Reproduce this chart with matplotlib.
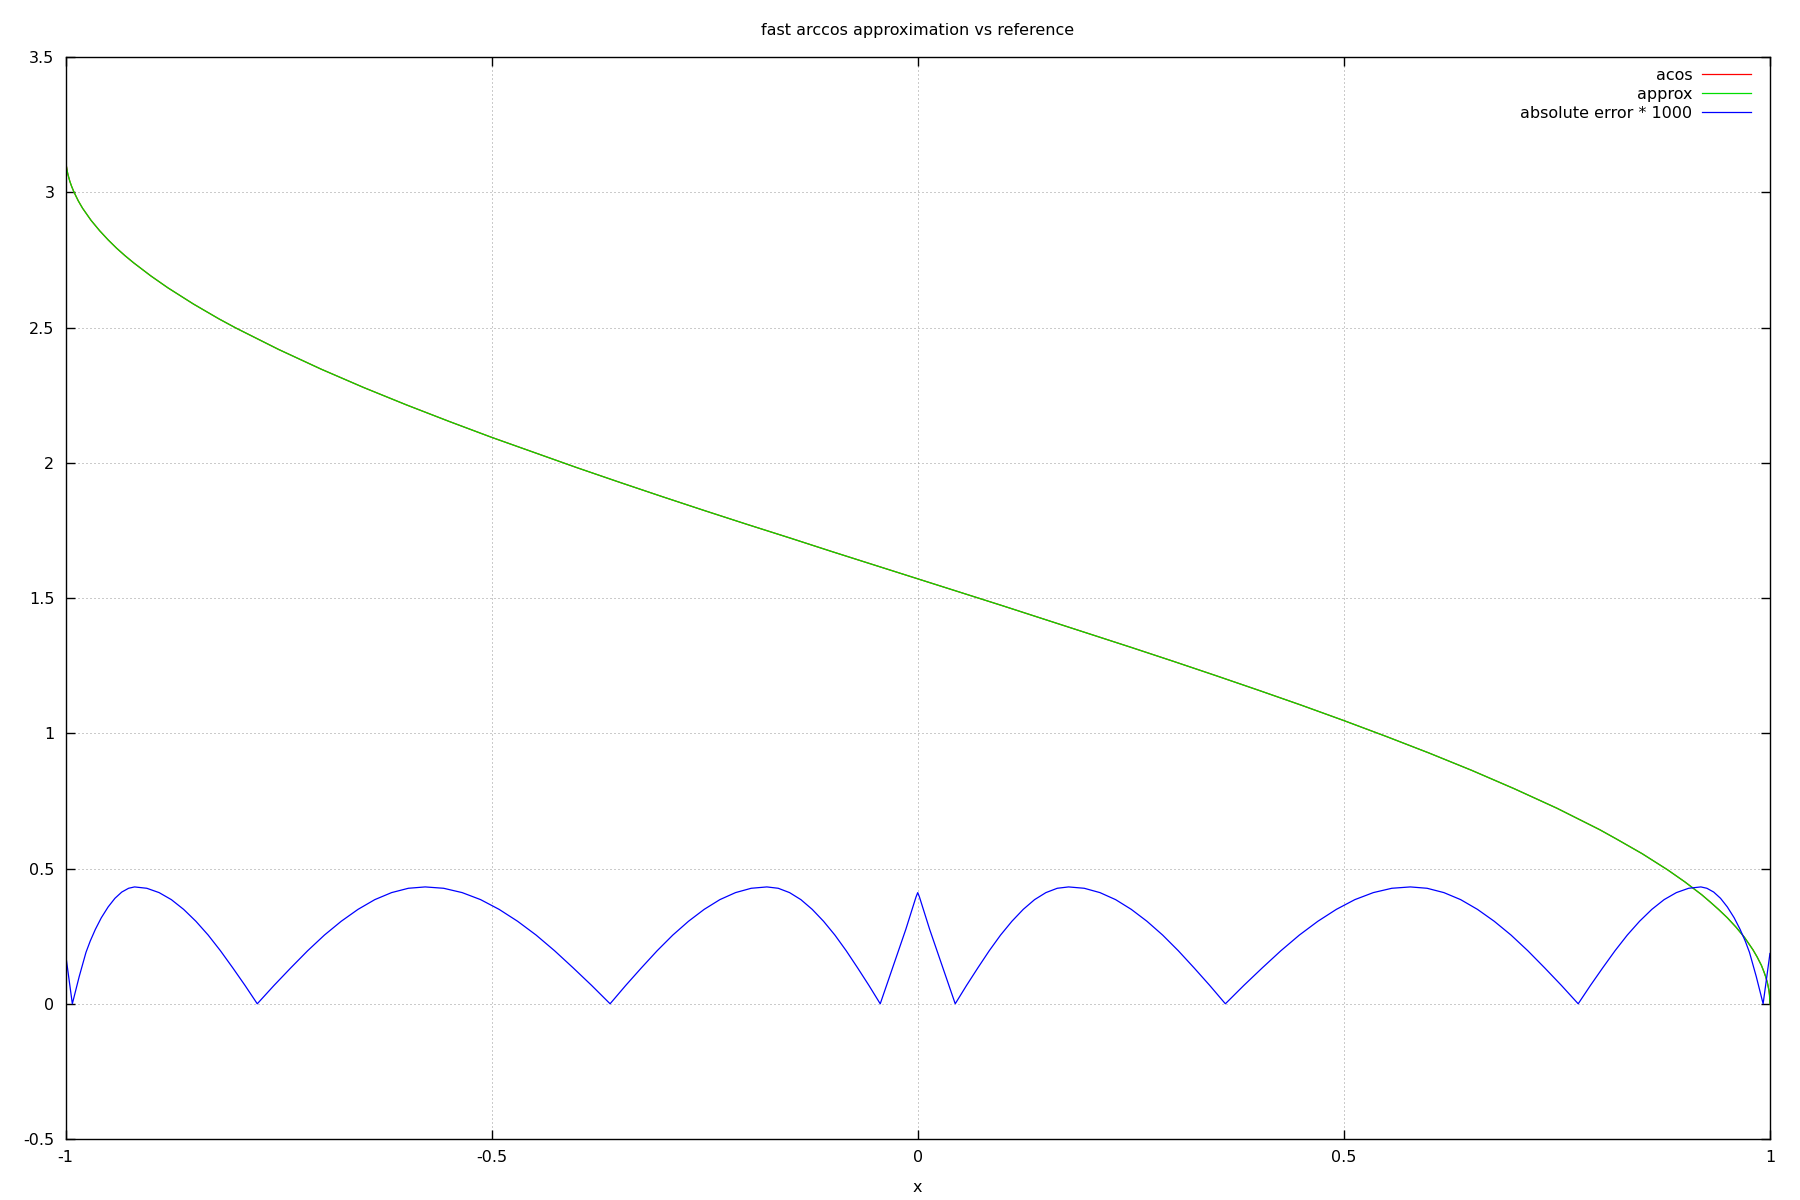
import matplotlib
matplotlib.use("Agg")
import matplotlib.pyplot as plt

# values
curve_x = [-1.0, -0.9995, -0.999, -0.998, -0.997, -0.995, -0.993, -0.99, -0.985, -0.98,
           -0.97, -0.96, -0.95, -0.94, -0.93, -0.92, -0.9, -0.88, -0.85, -0.82,
           -0.8, -0.75, -0.7, -0.65, -0.6, -0.55, -0.5, -0.45, -0.4, -0.35,
           -0.3, -0.25, -0.2, -0.15, -0.1, -0.05, 0.0,
           0.05, 0.1, 0.15, 0.2, 0.25, 0.3, 0.35, 0.4, 0.45, 0.5,
           0.55, 0.6, 0.65, 0.7, 0.75, 0.8, 0.82, 0.85, 0.88, 0.9,
           0.92, 0.93, 0.94, 0.95, 0.96, 0.97, 0.98, 0.985, 0.99, 0.993,
           0.995, 0.997, 0.998, 0.999, 0.9995, 1.0]
acos_y = [3.141, 3.110, 3.097, 3.078, 3.064, 3.041, 3.023, 3.000, 2.968, 2.941,
          2.896, 2.858, 2.824, 2.793, 2.765, 2.739, 2.691, 2.647, 2.587, 2.532,
          2.498, 2.419, 2.346, 2.278, 2.214, 2.153, 2.094, 2.038, 1.982, 1.928,
          1.875, 1.823, 1.772, 1.722, 1.671, 1.621, 1.571,
          1.521, 1.471, 1.420, 1.369, 1.318, 1.266, 1.213, 1.159, 1.104, 1.047,
          0.988, 0.927, 0.863, 0.795, 0.723, 0.644, 0.609, 0.555, 0.495, 0.451,
          0.403, 0.376, 0.348, 0.318, 0.284, 0.246, 0.200, 0.173, 0.142, 0.118,
          0.100, 0.078, 0.063, 0.045, 0.032, 0.0]
# approx sits on top of acos at this scale
approx_y = [3.141, 3.110, 3.097, 3.078, 3.064, 3.041, 3.023, 3.000, 2.968, 2.941,
            2.896, 2.858, 2.824, 2.793, 2.765, 2.739, 2.691, 2.647, 2.587, 2.532,
            2.498, 2.419, 2.346, 2.278, 2.214, 2.153, 2.094, 2.038, 1.982, 1.928,
            1.875, 1.823, 1.772, 1.722, 1.671, 1.621, 1.571,
            1.521, 1.471, 1.420, 1.369, 1.318, 1.266, 1.213, 1.159, 1.104, 1.047,
            0.988, 0.927, 0.863, 0.795, 0.723, 0.644, 0.609, 0.555, 0.495, 0.451,
            0.403, 0.376, 0.348, 0.318, 0.284, 0.246, 0.200, 0.173, 0.142, 0.118,
            0.100, 0.078, 0.063, 0.045, 0.032, 0.0]

# left half of the error curve (x <= 0)
err_x_neg = [-1.0,
             -0.992, -0.988, -0.984, -0.98, -0.976, -0.971, -0.965, -0.958, -0.95, -0.942, -0.934, -0.926,
             -0.919, -0.9046, -0.8902, -0.8758, -0.8614, -0.847, -0.8326, -0.8182, -0.8038, -0.7894,
             -0.775, -0.7553, -0.7356, -0.7159, -0.6962, -0.6765, -0.6568, -0.6371, -0.6174, -0.5977,
             -0.578, -0.5563, -0.5346, -0.5129, -0.4912, -0.4695, -0.4478, -0.4261, -0.4044, -0.3827,
             -0.361, -0.3426, -0.3242, -0.3058, -0.2874, -0.269, -0.2506, -0.2322, -0.2138, -0.1954,
             -0.177, -0.1637, -0.1504, -0.1371, -0.1238, -0.1105, -0.0972, -0.0839, -0.0706, -0.0573,
             -0.044, -0.038, -0.032, -0.026, -0.02, -0.014, -0.009, -0.005, -0.002, 0.0]
err_y_neg = [0.186,
             0.0, 0.05, 0.10, 0.145, 0.19, 0.232, 0.275, 0.318, 0.358, 0.39, 0.413, 0.427,
             0.432, 0.427, 0.411, 0.385, 0.349, 0.305, 0.254, 0.196, 0.133, 0.068,
             0.0, 0.068, 0.133, 0.196, 0.254, 0.305, 0.349, 0.385, 0.411, 0.427,
             0.432, 0.427, 0.411, 0.385, 0.349, 0.305, 0.254, 0.196, 0.133, 0.068,
             0.0, 0.068, 0.133, 0.196, 0.254, 0.305, 0.349, 0.385, 0.411, 0.427,
             0.432, 0.427, 0.411, 0.385, 0.349, 0.305, 0.254, 0.196, 0.133, 0.068,
             0.0, 0.055, 0.11, 0.165, 0.22, 0.275, 0.325, 0.365, 0.395, 0.411]
# the error curve is mirrored around x = 0
err_x = err_x_neg + [-v for v in reversed(err_x_neg[:-1])]
err_y = err_y_neg + list(reversed(err_y_neg[:-1]))
err_label = "absolute error * 1000"

plt.rcParams['font.family'] = ['DejaVu Sans']
fs = 11.5

fig = plt.figure(figsize=(18, 12), dpi=100)
ax = fig.add_axes([0.0364, 0.0508, 0.9469, 0.9017])

ax.plot(curve_x, acos_y, color='#ff0000', lw=0.9, label='acos')
ax.plot(curve_x, approx_y, color='#00dd00', lw=0.9, label='approx')
ax.plot(err_x, err_y, color='#0000ff', lw=0.9, label=err_label)

ax.set_xlim(-1, 1)
ax.set_ylim(-0.5, 3.5)
ax.set_xticks([-1, -0.5, 0, 0.5, 1])
ax.set_xticklabels(['-1', '-0.5', '0', '0.5', '1'])
ax.set_yticks([-0.5, 0, 0.5, 1, 1.5, 2, 2.5, 3, 3.5])
ax.set_yticklabels(['-0.5', '0', '0.5', '1', '1.5', '2', '2.5', '3', '3.5'])
ax.tick_params(direction='in', length=6.5, width=1, top=True, right=True,
               labelsize=fs, pad=8, colors='black')
ax.grid(True, color='#999999', lw=0.72, linestyle=(0, (1, 3)))
for s in ax.spines.values():
    s.set_linewidth(1.0)

ax.set_title('fast arccos approximation vs reference', fontsize=fs, pad=16)
ax.set_xlabel('x', fontsize=fs, labelpad=11)

ax.legend(loc='upper right', bbox_to_anchor=(0.9889, 0.990), frameon=False,
          markerfirst=False, fontsize=fs, handlelength=3.05, handletextpad=0.63,
          labelspacing=0.25, borderpad=0, borderaxespad=0)

fig.savefig('out.png', dpi=100)
